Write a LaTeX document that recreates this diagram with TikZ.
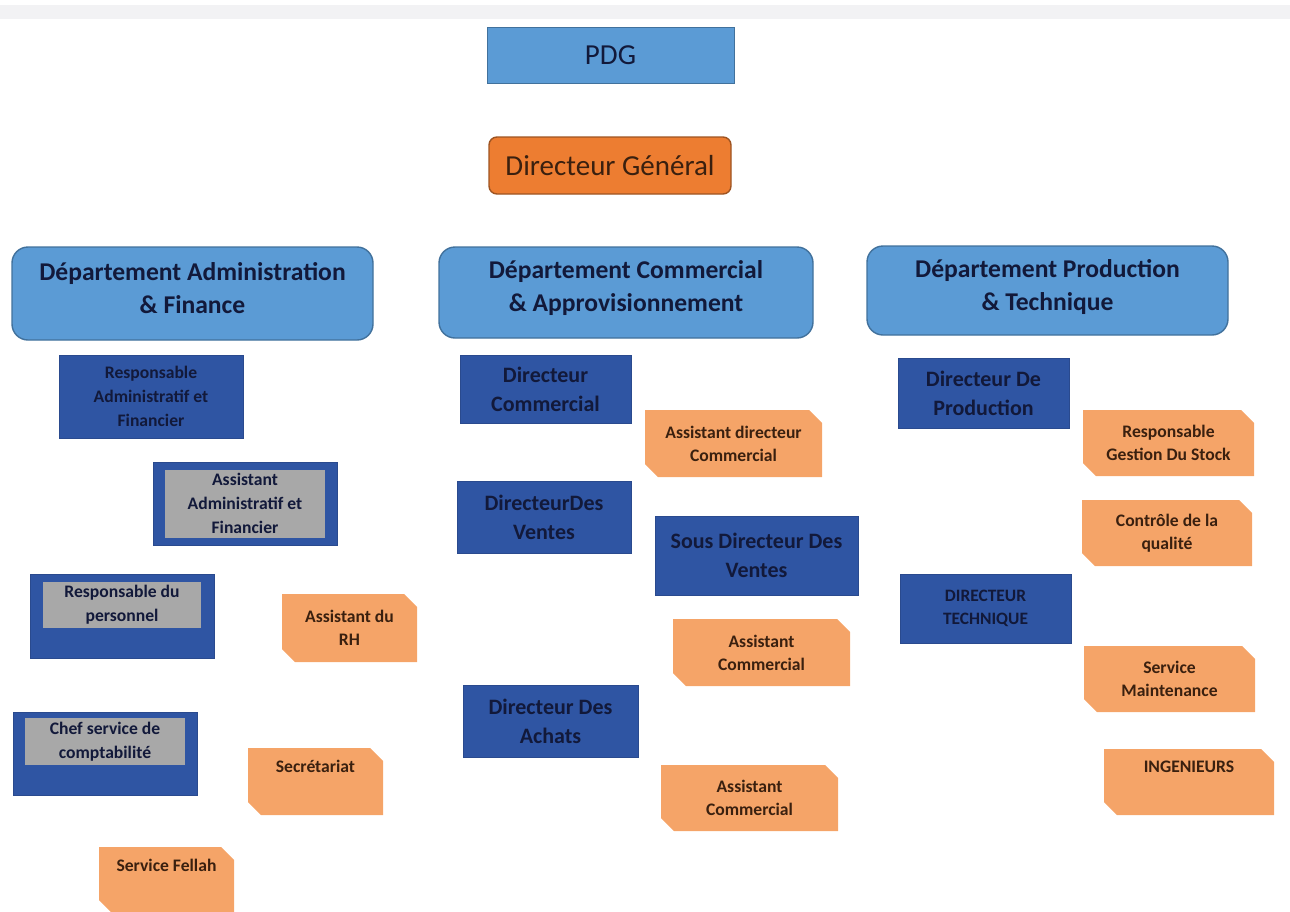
\documentclass[tikz,border=0pt]{standalone}
\usepackage{fontspec}
\setmainfont{Carlito}
\usetikzlibrary{shapes.misc}
\definecolor{orgsky}{HTML}{5B9BD5}
\definecolor{orgskyline}{HTML}{41719C}
\definecolor{orgnavy}{HTML}{2F55A3}
\definecolor{orgnavyline}{HTML}{2A4A8E}
\definecolor{orgorange}{HTML}{ED7D31}
\definecolor{orgorangeline}{HTML}{9E5422}
\definecolor{orgpeach}{HTML}{F5A468}
\definecolor{orggrey}{HTML}{A8A8A8}
\definecolor{orgink}{HTML}{12193A}
\definecolor{orgbrown}{HTML}{3A200F}
\definecolor{orgband}{HTML}{F2F2F4}
\newcommand{\deptdepth}{\rule[-6pt]{0pt}{0pt}}

\begin{document}
\begin{tikzpicture}[
  x=0.5pt,
  y=-0.5pt,
  every node/.style={inner sep=0pt, align=center, font=\bfseries},
  topbox/.style={draw=orgskyline, fill=orgsky, line width=0.5pt, text=orgink,
    font=\fontsize{14.5}{17}\selectfont},
  dgbox/.style={draw=orgorangeline, fill=orgorange, line width=0.7pt, rounded corners=4pt,
    text=orgbrown, font=\fontsize{14.5}{17}\selectfont},
  dept/.style={draw=orgskyline, fill=orgsky, line width=0.7pt, rounded corners=8pt,
    text=orgink, font=\bfseries\fontsize{12.8}{16.5}\selectfont},
  chief/.style={draw=orgnavyline, fill=orgnavy, line width=0.4pt, text=orgink,
    font=\bfseries\fontsize{11}{14.5}\selectfont},
  staff/.style={draw=orgnavyline, fill=orgnavy, line width=0.4pt, text=orgink,
    font=\bfseries\fontsize{8.8}{12}\selectfont},
  frame/.style={draw=orgnavyline, fill=orgnavy, line width=0.4pt},
  greybox/.style={fill=orggrey, text=orgink, font=\bfseries\fontsize{8.8}{12}\selectfont},
  aide/.style={chamfered rectangle, chamfered rectangle corners={north east,south west},
    chamfered rectangle xsep=3.2pt, chamfered rectangle ysep=3.2pt,
    fill=orgpeach, text=orgbrown, font=\bfseries\fontsize{8.8}{11.5}\selectfont}
]
  \useasboundingbox (0,0) rectangle (1290,911);
  \fill[orgband] (0,5) rectangle (1290,19);

  % ---- direction -------------------------------------------------------
  \node[topbox, minimum width=123.5pt, minimum height=28pt] (pdg) at (610.5,55) {PDG};
  \node[dgbox, minimum width=121pt, minimum height=28.5pt] (dg) at (610,165.5) {Directeur Général};

  % ---- the three departments -------------------------------------------
  \node[dept, minimum width=180.5pt, minimum height=46.5pt] (admin) at (192.5,293.5)
    {Département Administration\\\& Finance\deptdepth};
  \node[dept, minimum width=187pt, minimum height=45.5pt] (comm) at (626,292.5)
    {Département Commercial\\\& Approvisionnement\deptdepth};
  \node[dept, minimum width=180.5pt, minimum height=44.5pt] (prod) at (1047.5,290.5)
    {Département Production\\\& Technique\deptdepth};

  % ---- administration & finance ----------------------------------------
  \node[staff, minimum width=92pt, minimum height=41.5pt] (raf) at (151,396.5)
    {Responsable\\Administratif et\\Financier};
  \node[frame, minimum width=92pt, minimum height=41.5pt] (aafframe) at (245,503.5) {};
  \node[greybox, minimum width=80pt, minimum height=34pt] (aaf) at (aafframe)
    {Assistant\\Administratif et\\Financier};
  \node[frame, minimum width=92pt, minimum height=42pt] (rpframe) at (122,616) {};
  \node[greybox, minimum width=79pt, minimum height=23pt] (rp) at (122,605)
    {Responsable du\\personnel};
  \node[frame, minimum width=92pt, minimum height=41.5pt] (cscframe) at (105,753.5) {};
  \node[greybox, minimum width=80pt, minimum height=23.5pt] (csc) at (105,741.5)
    {Chef service de\\comptabilité};
  \node[aide, minimum width=67.5pt, minimum height=34pt] (arh) at (349.5,628)
    {Assistant du\\RH};
  \node[aide, minimum width=67.5pt, minimum height=33.5pt] (secr) at (315.5,781.5)
    {Secrétariat\\\strut};
  \node[aide, minimum width=67.5pt, minimum height=33pt] (fellah) at (166.5,880)
    {Service Fellah\\\strut};

  % ---- commercial & approvisionnement ----------------------------------
  \node[chief, minimum width=85.5pt, minimum height=34pt] (dcom) at (545.5,389)
    {Directeur\\Commercial};
  \node[aide, minimum width=88.5pt, minimum height=33.5pt] (adcom) at (733.5,443.5)
    {Assistant directeur\\Commercial};
  \node[chief, minimum width=87pt, minimum height=36pt] (dven) at (544,517)
    {DirecteurDes\\Ventes};
  \node[chief, minimum width=101.5pt, minimum height=39.5pt] (sdven) at (756.5,555.5)
    {Sous Directeur Des\\Ventes};
  \node[aide, minimum width=88.5pt, minimum height=33.5pt] (acom) at (761.5,652.5)
    {Assistant\\Commercial};
  \node[chief, minimum width=87.5pt, minimum height=36pt] (dach) at (550.5,721)
    {Directeur Des\\Achats};
  \node[aide, minimum width=88.5pt, minimum height=33pt] (aach) at (749.5,798)
    {Assistant\\Commercial};

  % ---- production & technique ------------------------------------------
  \node[chief, minimum width=85.5pt, minimum height=35pt] (dprod) at (983.5,393)
    {Directeur De\\Production};
  \node[aide, minimum width=85.5pt, minimum height=33pt] (stock) at (1168.5,443)
    {Responsable\\Gestion Du Stock};
  \node[aide, minimum width=85pt, minimum height=33pt] (qual) at (1167,533)
    {Contrôle de la\\qualité};
  \node[staff, font=\bfseries\fontsize{8.7}{11.5}\selectfont,
    minimum width=85.5pt, minimum height=34.5pt] (dtech) at (985.5,608.5)
    {DIRECTEUR\\TECHNIQUE};
  \node[aide, minimum width=85.5pt, minimum height=33pt] (maint) at (1169.5,679)
    {Service\\Maintenance};
  \node[aide, minimum width=85pt, minimum height=33pt] (ing) at (1189,782)
    {INGENIEURS\\\strut};
\end{tikzpicture}
\end{document}
